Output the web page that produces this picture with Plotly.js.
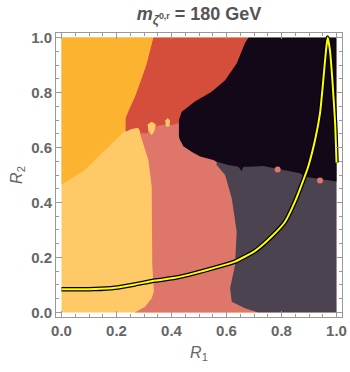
<!DOCTYPE html>
<html>
<head>
<meta charset="utf-8">
<script src="https://cdn.plot.ly/plotly-3.0.1.min.js"></script>
<style>
  html, body { margin: 0; padding: 0; background: #fff; }
  #chart { width: 350px; height: 372px; }
</style>
</head>
<body>
<div id="chart"></div>
<script>
// region outlines (R1, R2), drawn back to front
const lightOrangeX = [0, 1, 1, 0];
const lightOrangeY = [0, 0, 1, 1];

const orangeX = [0, 0.334, 0.31, 0.289, 0.267, 0.245, 0.233, 0.233, 0.183, 0.134, 0.085, 0];
const orangeY = [1, 1, 0.906, 0.845, 0.785, 0.736, 0.706, 0.664, 0.615, 0.567, 0.518, 0.465];

const salmonX = [0.267, 0.304, 0.328, 0.336, 0.330, 0.328, 0.328, 0.316, 0.298, 0.285, 0.29, 0.45, 0.65, 0.716];
const salmonY = [0, 0.021, 0.052, 0.076, 0.173, 0.355, 0.457, 0.555, 0.615, 0.652, 0.7, 0.72, 0.6, 0];

const redX = [0.233, 0.233, 0.245, 0.267, 0.289, 0.31, 0.334, 0.68, 0.7, 0.427, 0.4, 0.376, 0.34, 0.31, 0.289, 0.279, 0.255];
const redY = [0.657, 0.706, 0.736, 0.785, 0.845, 0.906, 1, 1, 0.6, 0.688, 0.682, 0.684, 0.676, 0.652, 0.652, 0.672, 0.667];

const grayX = [0.716, 0.667, 0.619, 0.613, 0.631, 0.637, 0.619, 0.595, 0.564, 0.564, 1, 1];
const grayY = [0, 0.015, 0.039, 0.088, 0.173, 0.294, 0.415, 0.5, 0.536, 0.6, 0.6, 0];

const blackX = [0.68, 1, 1, 0.928, 0.885, 0.867, 0.807, 0.734, 0.685, 0.662, 0.655, 0.646, 0.643, 0.607, 0.564, 0.552, 0.504, 0.473, 0.443, 0.431, 0.427, 0.427, 0.437, 0.461, 0.485, 0.546, 0.595, 0.637, 0.667];
const blackY = [1, 1, 0.476, 0.488, 0.494, 0.506, 0.518, 0.533, 0.530, 0.530, 0.515, 0.530, 0.530, 0.536, 0.548, 0.555, 0.567, 0.585, 0.605, 0.627, 0.639, 0.7, 0.73, 0.748, 0.767, 0.803, 0.845, 0.906, 0.979];

// little specks
const speck1X = [0.313, 0.328, 0.343, 0.338, 0.328, 0.316];
const speck1Y = [0.685, 0.694, 0.685, 0.66, 0.645, 0.66];
const speck2X = [0.377, 0.386, 0.395, 0.392, 0.38];
const speck2Y = [0.698, 0.706, 0.698, 0.676, 0.676];
const dotX = [0.786, 0.94];
const dotY = [0.52, 0.48];

// yellow contour
const curveX = [0, 0.122, 0.195, 0.267, 0.34, 0.413, 0.485, 0.558, 0.631, 0.704, 0.764, 0.813, 0.849, 0.873, 0.897, 0.922, 0.94, 0.952, 0.962, 0.968, 0.976, 0.985, 0.995, 1.0];
const curveY = [0.084, 0.085, 0.09, 0.102, 0.116, 0.126, 0.143, 0.163, 0.185, 0.224, 0.276, 0.330, 0.403, 0.464, 0.53, 0.627, 0.724, 0.845, 0.955, 1.0, 0.955, 0.845, 0.688, 0.545];

const tickVals = [0, 0.2, 0.4, 0.6, 0.8, 1.0];
const tickText = ['0.0', '0.2', '0.4', '0.6', '0.8', '1.0'];

function region(x, y, color) {
    return {
        x: x, y: y, type: 'scatter', mode: 'lines', fill: 'toself',
        fillcolor: color, line: { width: 0, color: color },
        hoverinfo: 'skip', showlegend: false
    };
}

const traces = [
    region(lightOrangeX, lightOrangeY, '#FEC966'),
    region(orangeX, orangeY, '#FCB430'),
    region(salmonX, salmonY, '#DF766A'),
    region(redX, redY, '#D54D3B'),
    region(grayX, grayY, '#4B4450'),
    region(blackX, blackY, '#130818'),
    region(speck1X, speck1Y, '#FEC966'),
    region(speck2X, speck2Y, '#FEC966'),
    {
        x: dotX, y: dotY, type: 'scatter', mode: 'markers',
        marker: { color: '#DF766A', size: 6 }, showlegend: false
    },
    {
        x: curveX, y: curveY, type: 'scatter', mode: 'lines',
        line: { color: '#000000', width: 4.5, shape: 'spline', smoothing: 0.5 }, showlegend: false
    },
    {
        x: curveX, y: curveY, type: 'scatter', mode: 'lines',
        line: { color: '#FFFF00', width: 2, shape: 'spline', smoothing: 0.5 }, showlegend: false
    }
];

const axisCommon = {
    tickmode: 'array',
    tickvals: tickVals,
    ticktext: tickText,
    ticks: 'inside',
    ticklen: 6,
    tickcolor: '#999',
    showline: true,
    linecolor: '#999',
    linewidth: 1,
    mirror: 'ticks',
    showgrid: false,
    zeroline: false,
    tickfont: { family: 'Liberation Sans, Arial, sans-serif', size: 15, color: '#666', weight: 'bold' },
    minor: { dtick: 0.05, ticks: 'inside', ticklen: 3, tickcolor: '#999', showgrid: false }
};

const layout = {
    width: 350,
    height: 372,
    margin: { l: 56, r: 8, t: 33, b: 55 },
    paper_bgcolor: '#fff',
    plot_bgcolor: '#fff',
    title: {
        text: '<i>m</i><sub><i>ζ</i><sup>0,r</sup></sub> = 180 GeV',
        font: { family: 'Liberation Sans, Arial, sans-serif', size: 18, color: '#555', weight: 'bold' },
        xref: 'paper', x: 0.5, xanchor: 'center', y: 0.962, yanchor: 'middle'
    },
    xaxis: Object.assign({}, axisCommon, {
        range: [-0.02, 1.02],
        title: { text: '<i>R</i><sub>1</sub>', font: { family: 'Liberation Sans, Arial, sans-serif', size: 16, color: '#666' }, standoff: 8 }
    }),
    yaxis: Object.assign({}, axisCommon, {
        range: [-0.0165, 1.0165],
        title: { text: '<i>R</i><sub>2</sub>', font: { family: 'Liberation Sans, Arial, sans-serif', size: 16, color: '#666' }, standoff: 4 }
    })
};

Plotly.newPlot('chart', traces, layout, { displayModeBar: false, staticPlot: true });
</script>
</body>
</html>
